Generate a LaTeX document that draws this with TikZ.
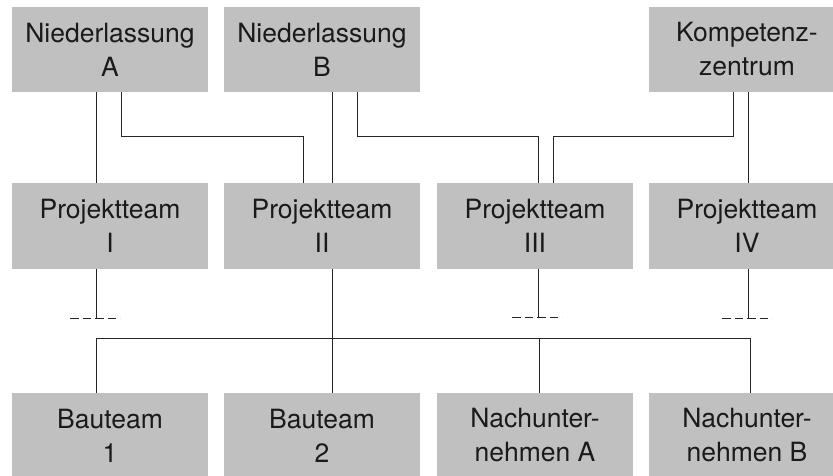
\documentclass[tikz,border=0pt]{standalone}
\usepackage{fontspec}
\setmainfont{TeX Gyre Heros}
\usetikzlibrary{calc}
\definecolor{boxgray}{HTML}{C0C0C0}
\definecolor{linegray}{HTML}{262626}
\definecolor{txt}{HTML}{1A1A1A}
\begin{document}
\begin{tikzpicture}[x=1pt,y=-1pt,
  unit/.style={rectangle, fill=boxgray, draw=none, inner sep=0pt,
    minimum width=196pt, align=center, text=txt,
    font=\fontsize{26.5}{34}\selectfont},
  toprow/.style={unit, minimum height=85pt},
  midrow/.style={unit, minimum height=86pt},
  botrow/.style={unit, minimum height=85pt},
  conn/.style={draw=linegray, line width=0.9pt},
  open/.style={conn, line width=1pt, dash pattern=on 8.5pt off 4pt}]
\useasboundingbox (0,0) rectangle (833,475);

% top row
\node[toprow] (A) at (110,49.5) {Niederlassung\\A};
\node[toprow] (B) at (322,49.5) {Niederlassung\\B};
\node[toprow] (K) at (747,49.5) {Kompetenz-\\zentrum};

% project teams
\node[midrow] (P1) at (110,226) {Projektteam\\I};
\node[midrow] (P2) at (322,226) {Projektteam\\II};
\node[midrow] (P3) at (535,226) {Projektteam\\III};
\node[midrow] (P4) at (747,226) {Projektteam\\IV};

% executing units
\node[botrow] (T1) at (110,435.5) {Bauteam\\1};
\node[botrow] (T2) at (322,435.5) {Bauteam\\2};
\node[botrow] (NA) at (535,435.5) {Nachunter-\\nehmen A};
\node[botrow] (NB) at (747,435.5) {Nachunter-\\nehmen B};

% links from the top row to the project teams
\draw[conn] ([xshift=-14pt]A.south) -- ([xshift=-14pt]P1.north);
\draw[conn] ([xshift=11pt]A.south) -- ++(0,44) -| ([xshift=-19pt]P2.north);
\draw[conn] ([xshift=10pt]B.south) -- ([xshift=10pt]P2.north);
\draw[conn] ([xshift=35pt]B.south) -- ++(0,44) -| ([xshift=3pt]P3.north);
\draw[conn] ([xshift=-14pt]K.south) -- ++(0,44) -| ([xshift=18pt]P3.north);
\draw[conn] ([xshift=1pt]K.south) -- ([xshift=1pt]P4.north);

% open ends below the project teams
\draw[conn] ([xshift=-14pt]P1.south) -- ++(0,49) coordinate (d1);
\draw[open] ([xshift=-26pt]d1) -- ([xshift=24pt]d1);
\draw[conn] ([xshift=3pt]P3.south) -- ++(0,48) coordinate (d3);
\draw[open] ([xshift=-26pt]d3) -- ([xshift=24pt]d3);
\draw[conn] ([xshift=1pt]P4.south) -- ++(0,49) coordinate (d4);
\draw[open] ([xshift=-26pt]d4) -- ([xshift=24pt]d4);

% project team II to the executing units
\draw[conn] ([xshift=10pt]P2.south) -- ([xshift=10pt]T2.north);
\draw[conn] ([xshift=-14pt]T1.north) -- ++(0,-54) -| ([xshift=3pt]NB.north);
\draw[conn] ([xshift=4pt]NA.north) -- ++(0,-54);
\end{tikzpicture}
\end{document}
